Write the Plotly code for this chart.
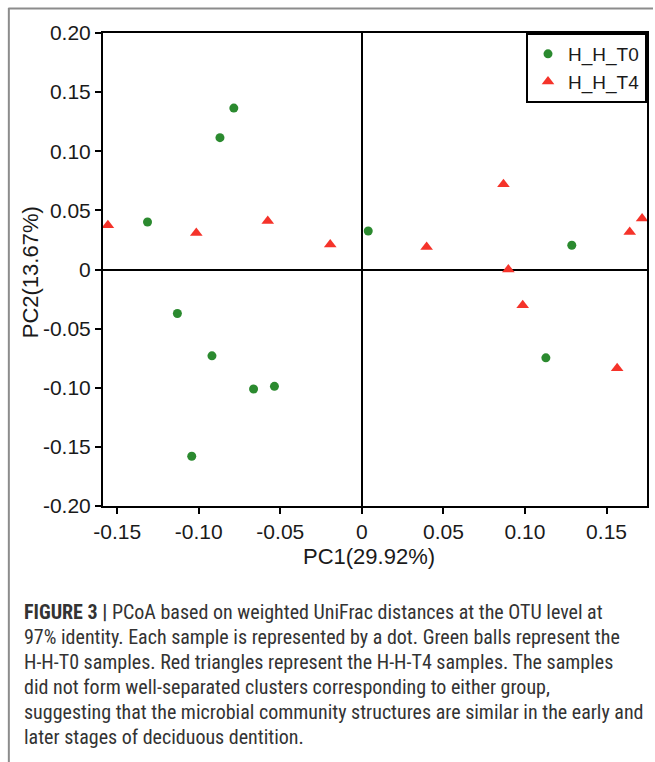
import plotly.graph_objects as go

# ---- data ----
t0_x = [-0.0785, -0.0870, -0.1314, -0.1131, -0.0919, -0.0664, -0.0536, -0.1043, 0.0039, 0.1287, 0.1128]
t0_y = [0.1365, 0.1115, 0.0402, -0.0372, -0.0730, -0.1011, -0.0988, -0.1579, 0.0326, 0.0205, -0.0747]
t4_x = [-0.1557, -0.1015, -0.0577, -0.0194, 0.0397, 0.0868, 0.0898, 0.0986, 0.1565, 0.1642, 0.1718]
t4_y = [0.0374, 0.0309, 0.0410, 0.0211, 0.0191, 0.0720, 0.0000, -0.0302, -0.0836, 0.0318, 0.0431]

x_ticks = [-0.15, -0.10, -0.05, 0, 0.05, 0.10, 0.15]
x_ticklabels = ["-0.15", "-0.10", "-0.05", "0", "0.05", "0.10", "0.15"]
y_ticks = [0.20, 0.15, 0.10, 0.05, 0, -0.05, -0.10, -0.15, -0.20]
y_ticklabels = ["0.20", "0.15", "0.10", "0.05", "0", "-0.05", "-0.10", "-0.15", "-0.20"]

caption_lines = [
    "<b>FIGURE 3 |</b> PCoA based on weighted UniFrac distances at the OTU level at",
    "97% identity. Each sample is represented by a dot. Green balls represent the",
    "H-H-T0 samples. Red triangles represent the H-H-T4 samples. The samples",
    "did not form well-separated clusters corresponding to either group,",
    "suggesting that the microbial community structures are similar in the early and",
    "later stages of deciduous dentition.",
]

W, H = 655, 762
L, R, T, B = 103, 6, 33, 256
PW, PH = W - L - R, H - T - B

def px(x):
    return (x - L) / PW

def py(y):
    return (H - B - y) / PH

GREEN = "#2b8a2f"
RED = "#f5332a"
FONT = "Liberation Sans, Arial"
TXT = "#1a1a1a"

fig = go.Figure()
fig.add_trace(go.Scatter(x=t0_x, y=t0_y, mode="markers", name="H_H_T0",
                         marker=dict(symbol="circle", size=9, color=GREEN)))
fig.add_trace(go.Scatter(x=t4_x, y=t4_y, mode="markers", name="H_H_T4",
                         marker=dict(symbol="triangle-up", size=11, color=RED)))

axis_common = dict(showline=True, linecolor="black", linewidth=2, mirror=True,
                   ticks="outside", ticklen=6, tickwidth=2, tickcolor="black",
                   showgrid=False, zeroline=True, zerolinecolor="black", zerolinewidth=2,
                   tickfont=dict(family=FONT, size=21, color=TXT))

fig.update_xaxes(range=[-0.1587, 0.1748], tickvals=x_ticks, ticktext=x_ticklabels, **axis_common)
fig.update_yaxes(range=[-0.2, 0.2], tickvals=y_ticks, ticktext=y_ticklabels, **axis_common)

annotations = [
    dict(text="PC1(29.92%)", x=px(370), y=py(556), xref="paper", yref="paper",
         xanchor="center", yanchor="middle",
         showarrow=False, font=dict(family=FONT, size=22, color=TXT)),
    dict(text="PC2(13.67%)", x=px(30), y=py(272), xref="paper", yref="paper",
         xanchor="center", yanchor="middle",
         showarrow=False, textangle=-90, font=dict(family=FONT, size=22, color=TXT)),
]
for i, line in enumerate(caption_lines):
    annotations.append(dict(text=line, x=px(22), y=py(612 + 25 * i), xref="paper", yref="paper",
                            xanchor="left", yanchor="middle", showarrow=False,
                            font=dict(family="Liberation Sans Narrow, Roboto Condensed, Liberation Sans",
                                      size=20, color="#333")))

shapes = [
    dict(type="line", xref="paper", yref="paper", x0=px(8), x1=px(W), y0=py(8.5), y1=py(8.5),
         line=dict(color="#8c8c8c", width=2)),
    dict(type="line", xref="paper", yref="paper", x0=px(8.5), x1=px(8.5), y0=py(8), y1=py(H),
         line=dict(color="#8c8c8c", width=2)),
]

fig.update_layout(
    width=W, height=H, margin=dict(l=L, r=R, t=T, b=B, pad=0),
    paper_bgcolor="white", plot_bgcolor="white",
    showlegend=True,
    legend=dict(x=1, y=1, xanchor="right", yanchor="top", bgcolor="white",
                bordercolor="black", borderwidth=2, tracegroupgap=0,
                font=dict(family=FONT, size=19, color=TXT), itemwidth=30),
    annotations=annotations, shapes=shapes,
)

fig.write_html("out.html", config={"displayModeBar": False},
               post_script="document.body.style.margin='0';")
